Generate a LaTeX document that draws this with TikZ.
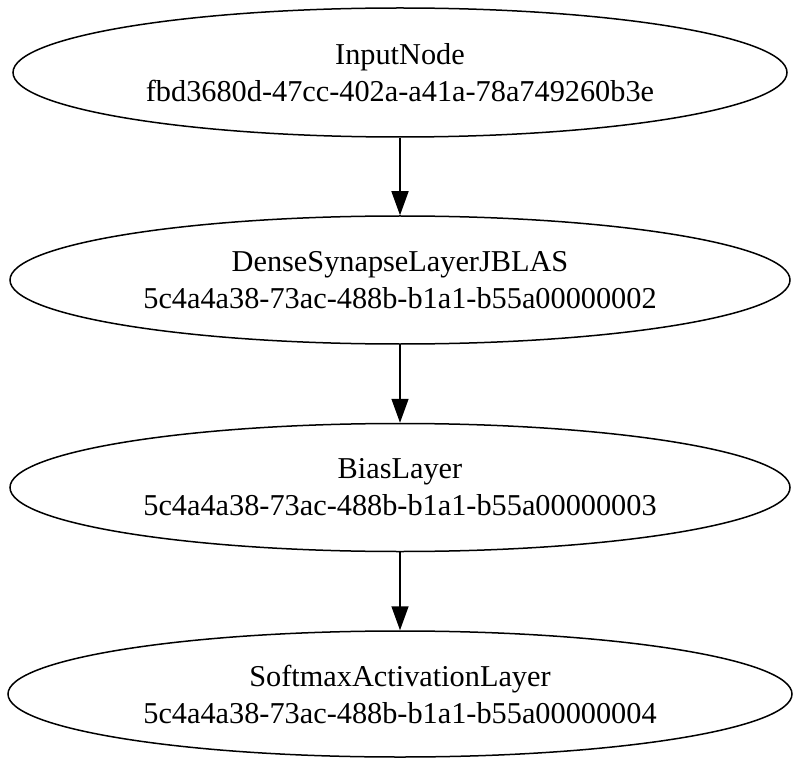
\documentclass[tikz,border=0pt]{standalone}
\usepackage{fontspec}
\setmainfont{Liberation Serif}
\usetikzlibrary{arrows.meta,shapes.geometric}
\begin{document}
\begin{tikzpicture}[x=1pt,y=-1pt,
  nd/.style={draw,line width=1.5pt,ellipse,align=center,inner sep=0pt,
    font=\fontsize{30.3}{37}\selectfont},
  edge/.style={line width=1.5pt,-{Triangle[length=24pt,width=17pt]}}]
\useasboundingbox (0,0) rectangle (800,767);
\node[nd,minimum width=774pt,minimum height=129pt] (n1) at (400,72.5) {InputNode\\fbd3680d-47cc-402a-a41a-78a749260b3e};
\node[nd,minimum width=780pt,minimum height=128pt] (n2) at (400,280) {DenseSynapseLayerJBLAS\\5c4a4a38-73ac-488b-b1a1-b55a00000002};
\node[nd,minimum width=780pt,minimum height=128pt] (n3) at (400,487.5) {BiasLayer\\5c4a4a38-73ac-488b-b1a1-b55a00000003};
\node[nd,minimum width=784pt,minimum height=126pt] (n4) at (400,694) {SoftmaxActivationLayer\\5c4a4a38-73ac-488b-b1a1-b55a00000004};
\draw[edge] (n1) -- (n2);
\draw[edge] (n2) -- (n3);
\draw[edge] (n3) -- (n4);
\end{tikzpicture}
\end{document}
